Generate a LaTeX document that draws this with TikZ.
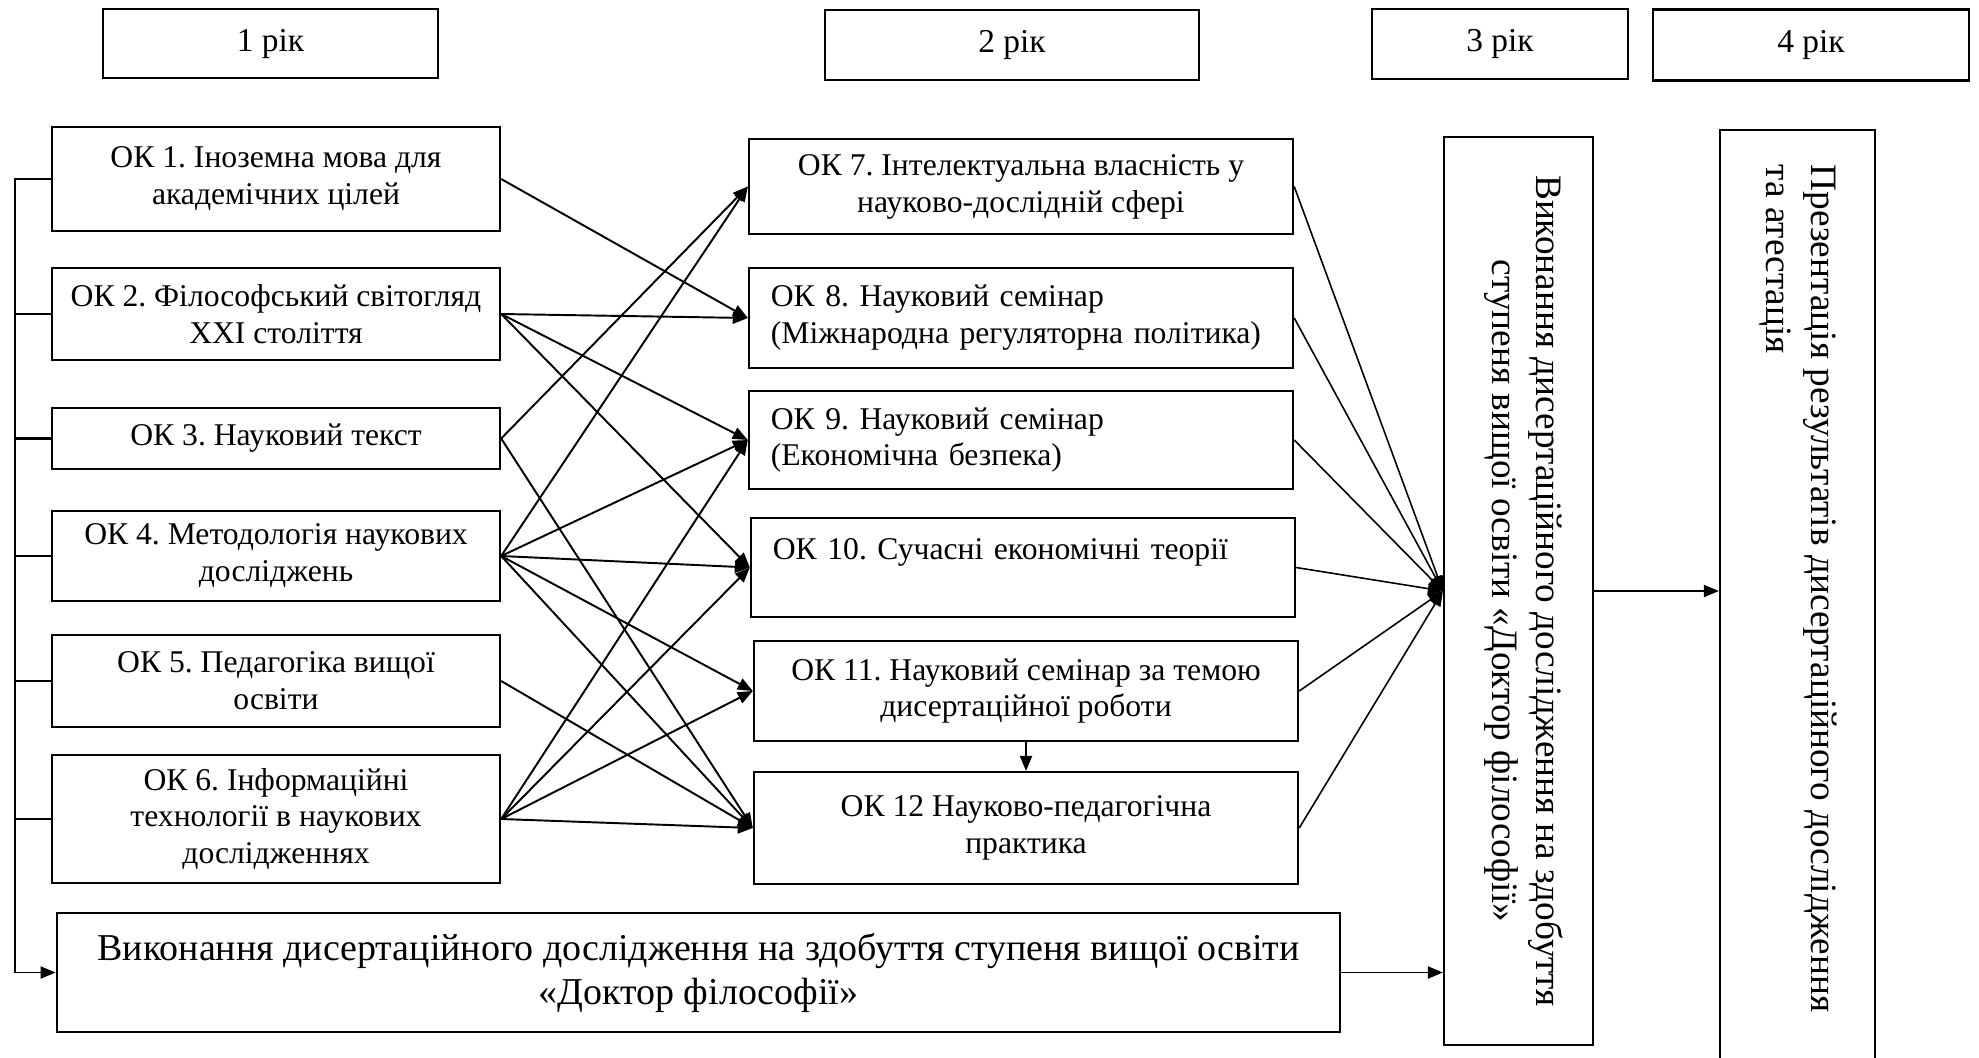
\documentclass[tikz,border=0pt]{standalone}
\usepackage{fontspec}
\setmainfont{Liberation Serif}
\usetikzlibrary{arrows.meta}
\frenchspacing
\begin{document}
\begin{tikzpicture}[x=0.01cm,y=-0.01cm,>={Triangle[length=1.5mm,width=1.2mm]},
  box/.style={draw,line width=0.6pt,inner ysep=0.05cm,inner xsep=0.1cm,align=center,font=\fontsize{9}{10.5}\selectfont},
  lbox/.style={box,align=left,inner xsep=0.22cm,text width=5cm},
  yearbox/.style={draw,line width=0.6pt,font=\fontsize{9.5}{11}\selectfont},
  vbox/.style={draw,line width=0.6pt},
  vtext/.style={rotate=-90,font=\fontsize{10.6}{12.6}\selectfont},
  link/.style={->,line width=0.55pt},
  feed/.style={->,line width=0.45pt}]

\useasboundingbox (0,0) rectangle (1979,1057);

\node [yearbox,minimum width=3.35cm,minimum height=0.69cm] at (270.5,43.5) (y1) {1 рік};
\node [yearbox,minimum width=3.74cm,minimum height=0.70cm] at (1012,45) (y2) {2 рік};
\node [yearbox,minimum width=2.56cm,minimum height=0.70cm] at (1500,44) (y3) {3 рік};
\node [yearbox,minimum width=3.16cm,minimum height=0.71cm] at (1811,45) (y4) {4 рік};

\node [box,minimum width=4.48cm,minimum height=1.04cm] at (276,179) (ok1) {ОК 1. Іноземна мова для\\академічних цілей};
\node [box,minimum width=4.48cm,minimum height=0.92cm] at (276,314) (ok2) {ОК 2. Філософський світогляд\\XXI століття};
\node [box,minimum width=4.48cm,minimum height=0.61cm] at (276,438.5) (ok3) {ОК 3. Науковий текст};
\node [box,minimum width=4.48cm,minimum height=0.90cm] at (276,556) (ok4) {ОК 4. Методологія наукових\\досліджень};
\node [box,minimum width=4.48cm,minimum height=0.92cm] at (276,681) (ok5) {ОК 5. Педагогіка вищої\\освіти};
\node [box,minimum width=4.48cm,minimum height=1.28cm] at (276,819) (ok6) {ОК 6. Інформаційні\\технології в наукових\\дослідженнях};

\node [box,minimum width=5.44cm,minimum height=0.95cm] at (1021,186.5) (ok7) {ОК 7. Інтелектуальна власність у\\науково-дослідній сфері};
\node [lbox,minimum height=1.00cm] at (1021,318) (ok8) {ОК 8. Науковий семінар\\(Міжнародна регуляторна політика)};
\node [lbox,minimum height=0.98cm] at (1021,440) (ok9) {ОК 9. Науковий семінар\\(Економічна безпека)};
\node [lbox,minimum height=0.99cm] at (1023,567.5) (ok10) {ОК 10. Сучасні економічні теорії\\~};
\node [box,minimum width=5.44cm,minimum height=1.00cm] at (1026,691) (ok11) {ОК 11. Науковий семінар за темою\\дисертаційної роботи};
\node [box,minimum width=5.44cm,minimum height=1.12cm] at (1026,828) (ok12) {ОК 12 Науково-педагогічна\\практика};

\node [box,minimum width=12.83cm,minimum height=1.19cm,font=\fontsize{10.8}{12.5}\selectfont] at (698.5,972.5) (bot) {Виконання дисертаційного дослідження на здобуття ступеня вищої освіти\\«Доктор філософії»};

\node [vbox,minimum width=1.49cm,minimum height=9.08cm] at (1518.5,591) (v3) {};
\node [vtext,align=center] at (1524,591) (v3t) {Виконання дисертаційного дослідження на здобуття\\ступеня вищої освіти «Доктор філософії»};
\node [vbox,minimum width=1.55cm,minimum height=9.6cm] at (1797.5,610) (v4) {};
\node [vtext,align=left,anchor=west,inner sep=0pt] at (1798,164) (v4t) {Презентація результатів дисертаційного дослідження\\та атестація};

\coordinate (bus) at (15,179);
\draw [line width=0.6pt] (ok1.west) -- (bus) -- (bus |- bot.west);
\draw [line width=0.6pt] (ok2.west) -- (ok2.west -| bus);
\draw [line width=0.6pt] (ok3.west) -- (ok3.west -| bus);
\draw [line width=0.6pt] (ok4.west) -- (ok4.west -| bus);
\draw [line width=0.6pt] (ok5.west) -- (ok5.west -| bus);
\draw [line width=0.6pt] (ok6.west) -- (ok6.west -| bus);
\draw [link] (bus |- bot.west) -- (bot.west);

\draw [link] (ok1.east) -- (ok8.west);
\draw [link] (ok2.east) -- (ok8.west);
\draw [link] (ok2.east) -- (ok9.west);
\draw [link] (ok2.east) -- (ok10.west);
\draw [link] (ok3.east) -- (ok7.west);
\draw [link] (ok3.east) -- (ok12.west);
\draw [link] (ok4.east) -- (ok7.west);
\draw [link] (ok4.east) -- (ok9.west);
\draw [link] (ok4.east) -- (ok10.west);
\draw [link] (ok4.east) -- (ok11.west);
\draw [link] (ok4.east) -- (ok12.west);
\draw [link] (ok5.east) -- (ok12.west);
\draw [link] (ok6.east) -- (ok9.west);
\draw [link] (ok6.east) -- (ok10.west);
\draw [link] (ok6.east) -- (ok11.west);
\draw [link] (ok6.east) -- (ok12.west);

\draw [link] (ok11.south) -- (ok12.north);

\draw [feed] (ok7.east) -- (v3.west);
\draw [feed] (ok8.east) -- (v3.west);
\draw [feed] (ok9.east) -- (v3.west);
\draw [feed] (ok10.east) -- (v3.west);
\draw [feed] (ok11.east) -- (v3.west);
\draw [feed] (ok12.east) -- (v3.west);

\draw [link] (v3.east) -- (v3.east -| v4.west);
\draw [link] (bot.east) -- (bot.east -| v3.west);

\end{tikzpicture}
\end{document}
